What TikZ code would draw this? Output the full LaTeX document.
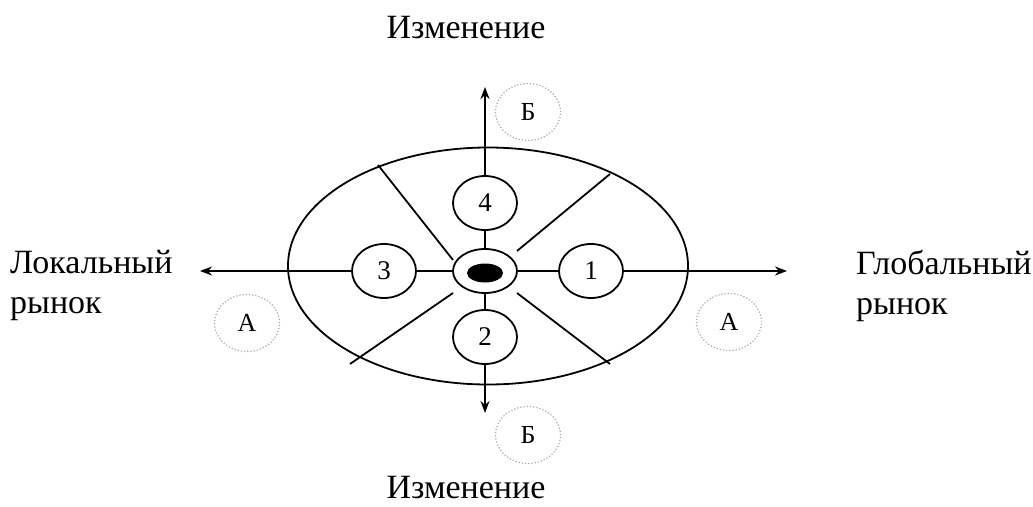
\documentclass[tikz,border=0pt]{standalone}
\usepackage{fontspec}
\setmainfont{Liberation Serif}
\usetikzlibrary{shapes.geometric,arrows.meta}
\begin{document}
\begin{tikzpicture}[x=1pt,y=-1pt,
  ln/.style={line width=1.8pt},
  arr/.style={ln,-{Stealth[length=12pt,width=9pt]}},
  numc/.style={ellipse,draw,ln,fill=white,minimum width=64pt,minimum height=54pt,inner sep=0pt,font=\fontsize{27}{29}\selectfont},
  dotc/.style={ellipse,draw=gray!70,dotted,line width=1.2pt,minimum width=65pt,minimum height=57pt,inner sep=0pt,font=\fontsize{26}{28}\selectfont},
  lbl/.style={inner sep=0pt,font=\fontsize{34}{40}\selectfont}]
\useasboundingbox (0,0) rectangle (1033,506);
% big ellipse
\node[ellipse,draw,ln,minimum width=400pt,minimum height=237pt] (big) at (488,266) {};
% center
\node[ellipse,draw,ln,fill=white,minimum width=64pt,minimum height=44pt] (ctr) at (485,271) {};
\node[ellipse,fill=black,minimum width=36pt,minimum height=19pt,inner sep=0pt] (dot) at (485,273) {};
% numbered circles
\node[numc] (c1) at (591,271) {1};
\node[numc] (c2) at (485,337) {2};
\node[numc] (c3) at (384,271) {3};
\node[numc] (c4) at (485,203) {4};
% axis ends
\coordinate (tipL) at (200,271);
\coordinate (tipR) at (787,271);
\coordinate (tipT) at (485,87);
\coordinate (tipB) at (485,413);
% axes
\draw[arr] (c3.west) -- (tipL);
\draw[ln] (c3.east) -- (ctr.west);
\draw[ln] (ctr.east) -- (c1.west);
\draw[arr] (c1.east) -- (tipR);
\draw[arr] (c4.north) -- (tipT);
\draw[ln] (c4.south) -- (ctr.north);
\draw[ln] (ctr.south) -- (c2.north);
\draw[arr] (c2.south) -- (tipB);
% diagonals
\coordinate (ulO) at (378,165); \coordinate (ulI) at (453,260);
\coordinate (urO) at (610,174); \coordinate (urI) at (517,251);
\coordinate (llO) at (350,364); \coordinate (llI) at (453,293);
\coordinate (lrO) at (610,364); \coordinate (lrI) at (517,293);
\draw[ln] (ulO) -- (ulI);
\draw[ln] (urO) -- (urI);
\draw[ln] (llO) -- (llI);
\draw[ln] (lrO) -- (lrI);
% dotted labels
\node[dotc] (bT) at (528,112) {Б};
\node[dotc] (bB) at (528,435) {Б};
\node[dotc] (aL) at (247,323) {А};
\node[dotc] (aR) at (729,322) {А};
% texts
\node[lbl,anchor=base] (tT) at (466,38) {Изменение};
\node[lbl,anchor=base] (tB) at (466,498) {Изменение};
\node[lbl,anchor=north west,align=left] (tL) at (10,250) {Локальный\\рынок};
\node[lbl,anchor=north west,align=left] (tR) at (856,250) {Глобальный\\рынок};
\end{tikzpicture}
\end{document}
